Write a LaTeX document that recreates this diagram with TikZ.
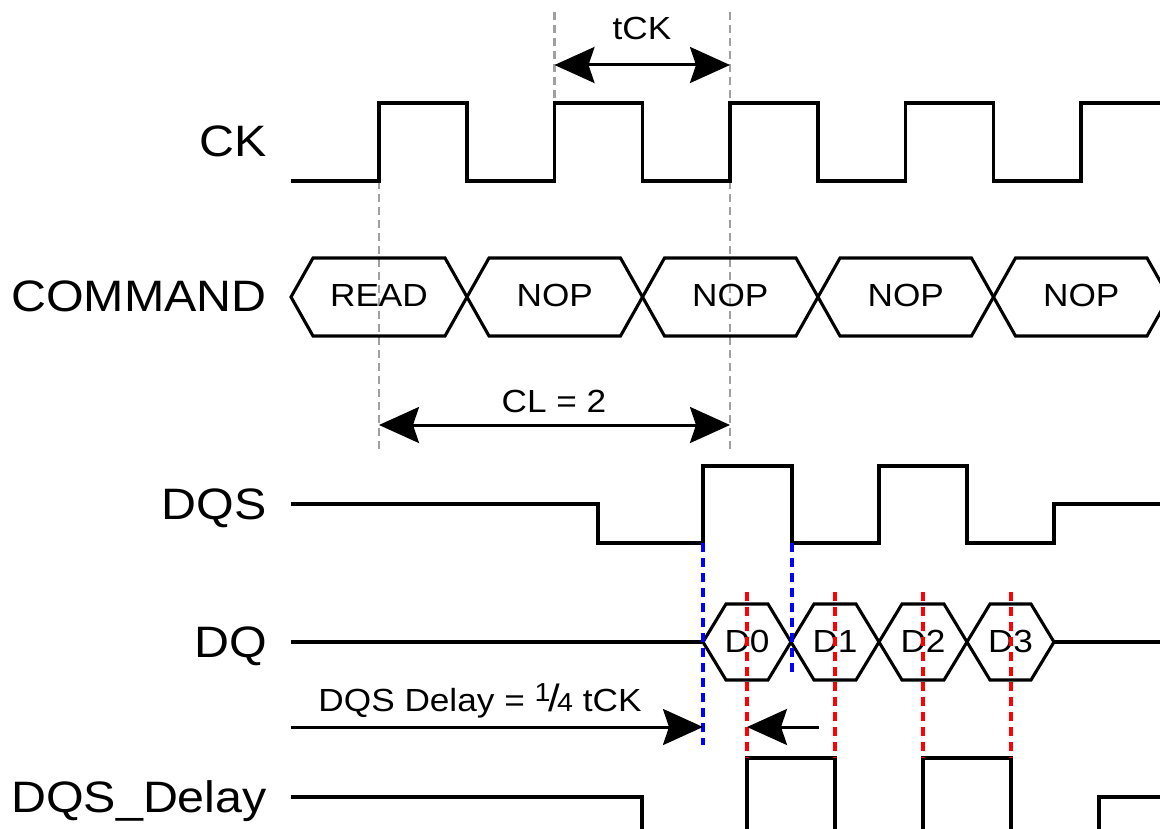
\documentclass[tikz,border=0pt]{standalone}
\usepackage{fontspec}
\setmainfont{Liberation Sans}[FakeStretch=1.1]
\usetikzlibrary{arrows.meta}
\definecolor{DGray}{HTML}{A0A0A0}
\newcommand{\quarter}{{\fontsize{26}{26}\selectfont\raisebox{10pt}{1}}\kern-2pt{\fontsize{38}{38}\selectfont/}\kern-3pt{\fontsize{26}{26}\selectfont 4}}

\begin{document}
\begin{tikzpicture}[x=1pt,y=-1pt,
  w/.style={line width=3.1pt,line join=miter},
  g/.style={draw=DGray,line width=2.4pt,dash pattern=on 8pt off 5pt},
  bl/.style={draw=blue,line width=3.2pt,dash pattern=on 9pt off 6pt},
  rd/.style={draw=red,line width=3.2pt,dash pattern=on 9pt off 6pt},
  lbl/.style={anchor=base east,inner sep=0pt,font=\fontsize{44}{48}\selectfont},
  t/.style={anchor=base,inner sep=0pt,font=\fontsize{32}{36}\selectfont},
  a/.style={line width=3pt,-{Stealth[length=40pt,width=36pt,inset=6pt]}},
  aa/.style={line width=3pt,{Stealth[length=40pt,width=36pt,inset=6pt]}-{Stealth[length=40pt,width=36pt,inset=6pt]}}
]
  \useasboundingbox (0,0) rectangle (1160,829);
  \clip (0,0) rectangle (1160,829);

  \node[lbl] (ck) at (267,157) {CK};
  \node[lbl] (cmd) at (267,312) {COMMAND};
  \node[lbl] (dqs) at (267,519) {DQS};
  \node[lbl] (dq) at (267,657) {DQ};
  \node[lbl] (dqsd) at (267,812) {DQS\_Delay};

  \draw[g] (554.5,12) -- (554.5,103);
  \draw[g] (730,12) -- (730,450);
  \draw[g] (379,181) -- (379,450);

  \draw[w] (291,181) \foreach \i in {0,...,4}{
    -- ({379+175.5*\i},181) -- ({379+175.5*\i},103)
    -- ({467+175.5*\i},103) -- ({467+175.5*\i},181)};

  \foreach \a/\b/\txt [count=\k] in {291/467/READ,467/642.5/NOP,642.5/818/NOP,818/993.5/NOP,993.5/1169/NOP}{
    \draw[w] (\a,297) -- ({\a+22},258) -- ({\b-22},258) -- (\b,297)
      -- ({\b-22},336) -- ({\a+22},336) -- cycle;
    \node[t] (cmd\k) at ({(\a+\b)/2},306) {\txt};
  }

  \draw[w] (291,504) -- (598,504) -- (598,543) -- (703,543) -- (703,466)
    -- (792,466) -- (792,543) -- (879,543) -- (879,466) -- (967,466)
    -- (967,543) -- (1054,543) -- (1054,504) -- (1160,504);

  \draw[w] (291,642) -- (703,642);
  \foreach \a/\b/\txt [count=\k from 0] in {703/791/D0,791/879/D1,879/967/D2,967/1054/D3}{
    \draw[w] (\a,642) -- ({\a+23},604) -- ({\b-23},604) -- (\b,642)
      -- ({\b-23},680) -- ({\a+23},680) -- cycle;
    \node[t] (d\k) at ({(\a+\b)/2},652) {\txt};
  }
  \draw[w] (1054,642) -- (1160,642);

  \draw[w] (291,797) -- (642,797) -- (642,840);
  \draw[w] (747,840) -- (747,758) -- (835,758) -- (835,840);
  \draw[w] (923,840) -- (923,758) -- (1011,758) -- (1011,840);
  \draw[w] (1099,840) -- (1099,797) -- (1160,797);

  \draw[bl] (703,543) -- (703,745);
  \draw[bl] (792,543) -- (792,674);
  \foreach \x in {747,835,923,1011}
    \draw[rd] (\x,592) -- (\x,758);

  \coordinate (tck0) at (554.5,65);
  \coordinate (tck1) at (730,65);
  \draw[aa] (tck0) -- (tck1);
  \node[t] (tck) at (642,40) {tCK};

  \coordinate (cl0) at (379,425);
  \coordinate (cl1) at (730,425);
  \draw[aa] (cl0) -- (cl1);
  \node[t] (cl) at (554,412) {CL = 2};

  \coordinate (dl0) at (291,727);
  \coordinate (dl1) at (703,727);
  \draw[a] (dl0) -- (dl1);
  \coordinate (dr0) at (819,727);
  \coordinate (dr1) at (747,727);
  \draw[a] (dr0) -- (dr1);
  \node[t] (dly) at (480,711) {DQS Delay = \quarter{} tCK};
\end{tikzpicture}
\end{document}
